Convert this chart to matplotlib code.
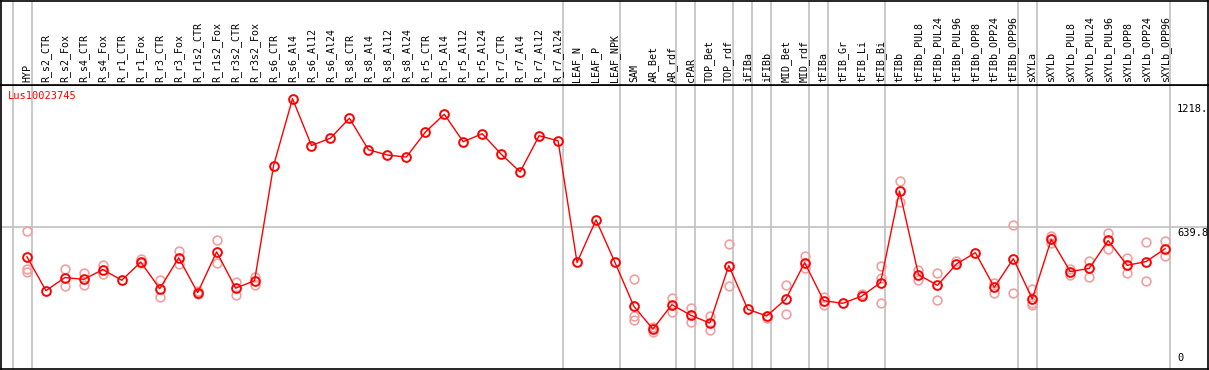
import numpy as np
import matplotlib
matplotlib.use("Agg")
import matplotlib.pyplot as plt

plt.rcParams['font.family'] = ['DejaVu Sans Mono']

# 샘플 이름
samples = ["HYP", "R_s2_CTR", "R_s2_Fox", "R_s4_CTR", "R_s4_Fox", "R_r1_CTR", "R_r1_Fox",
           "R_r3_CTR", "R_r3_Fox", "R_r1s2_CTR", "R_r1s2_Fox", "R_r3s2_CTR", "R_r3s2_Fox",
           "R_s6_CTR", "R_s6_Al4", "R_s6_Al12", "R_s6_Al24", "R_s8_CTR", "R_s8_Al4",
           "R_s8_Al12", "R_s8_Al24", "R_r5_CTR", "R_r5_Al4", "R_r5_Al12", "R_r5_Al24",
           "R_r7_CTR", "R_r7_Al4", "R_r7_Al12", "R_r7_Al24", "LEAF_N", "LEAF_P", "LEAF_NPK",
           "SAM", "AR_Bet", "AR_rdf", "cPAR", "TOP_Bet", "TOP_rdf", "iFIBa", "iFIBb",
           "MID_Bet", "MID_rdf", "tFIBa", "tFIB_Gr", "tFIB_Li", "tFIB_Bi", "tFIBb",
           "tFIBb_PUL8", "tFIBb_PUL24", "tFIBb_PUL96", "tFIBb_OPP8", "tFIBb_OPP24",
           "tFIBb_OPP96", "sXYLa", "sXYLb", "sXYLb_PUL8", "sXYLb_PUL24", "sXYLb_PUL96",
           "sXYLb_OPP8", "sXYLb_OPP24", "sXYLb_OPP96"]

# 평균 발현값
means = [506, 353, 412, 404, 448, 400, 482, 362, 501, 344, 528, 364, 398,
         916, 1218, 1007, 1040, 1130, 988, 964, 955, 1067, 1148, 1024, 1060, 968, 888, 1051, 1028,
         480, 672, 480,
         282, 180, 290, 242, 207, 466, 269, 239, 314, 479, 308, 296, 328, 389,
         802, 425, 377, 473, 524, 368, 497, 316, 584, 439, 453, 579, 467, 484, 542]

# 반복 측정값 (없으면 None)
N = None
rep_a = [624, N, 449, 431, 468, N, 494, 400, 530, 352, 579, 392, 416,
         N, N, N, N, N, N, N, N, N, N, N, N, N, N, N, N,
         N, N, N,
         407, 187, 322, 274, 239, 561, N, 228, 380, 507, 323, N, 337, 462,
         847, 446, 434, 488, N, 389, 651, 362, 598, 452, 485, 615, 501, 573, 578]
rep_b = [449, N, 374, 377, 427, N, 476, 326, 473, 337, 479, 334, 380,
         N, N, N, N, N, N, N, N, N, N, N, N, N, N, N, N,
         N, N, N,
         239, 165, 259, 210, 174, 373, N, N, 247, 455, 290, N, N, 412,
         751, 401, 313, N, N, 341, 344, 296, 569, 425, 416, 539, 434, 395, 509]
rep_c = [436, N, N, N, N, N, N, N, N, N, N, N, N,
         N, N, N, N, N, N, N, N, N, N, N, N, N, N, N, N,
         N, N, N,
         220, N, N, N, N, N, N, N, N, N, N, N, N, 296,
         N, N, N, N, N, N, N, 287, N, N, N, N, N, N, N]

# 그룹 구분선 (해당 인덱스 뒤)
group_ends = [-1, 0, 28, 31, 34, 35, 37, 38, 39, 41, 42, 45, 52, 53, 60]

y_ticks = [1218, 639.8, 0]
y_top = 1279.6
gene = "Lus10023745"

x = np.arange(len(samples))
W, H = 1209, 370
fig = plt.figure(figsize=(W / 100, H / 100), dpi=100)

x0, x1 = -26 / 19, (W - 26) / 19
ax = fig.add_axes([1 / W, 1 / H, (W - 2) / W, 284 / H])
hd = fig.add_axes([1 / W, 285 / H, (W - 2) / W, 84 / H])

for a in (ax, hd):
    a.set_xlim(x0, x1)
    a.set_xticks([])
    a.set_yticks([])
    for s in a.spines.values():
        s.set_color("black")
        s.set_linewidth(1.2)
    for g in group_ends:
        a.axvline(g + 0.24, color="#c0c0c0", lw=1.2, zorder=0)

ax.set_ylim(0, y_top)
hd.set_ylim(0, 1)
ax.axhline(y_ticks[1], color="#c0c0c0", lw=1.2, zorder=0)

# 반복값
for reps in (rep_a, rep_b, rep_c):
    r = np.array([np.nan if v is None else v for v in reps], dtype=float)
    ax.plot(x, r, "o", ms=6.3, mfc="none", mec="#f0a0a0", mew=1.2, zorder=2)

# 평균선
ax.plot(x, means, "-", color="red", lw=1.0, zorder=3)
ax.plot(x, means, "o", ms=6.3, mfc="none", mec="red", mew=1.4, zorder=4)

# 샘플 라벨
for i, name in enumerate(samples):
    hd.text(i, 0.03, name, rotation=90, ha="center", va="bottom", fontsize=7.2)

ax.text(7 / W, (370 - 97) / 284, gene, transform=ax.transAxes, color="red",
        fontsize=7.5, va="center", ha="left")

xl = (1178 - 26) / 19
ax.annotate("1218.", (xl, y_ticks[0]), xytext=(0, -4), textcoords="offset points",
            va="top", ha="left", fontsize=7.5)
ax.annotate("639.8", (xl, y_ticks[1]), xytext=(0, -0.5), textcoords="offset points",
            va="top", ha="left", fontsize=7.5)
ax.annotate("0", (xl, y_ticks[2]), xytext=(0, 4), textcoords="offset points",
            va="bottom", ha="left", fontsize=7.5)

fig.savefig("out.png", dpi=100)
